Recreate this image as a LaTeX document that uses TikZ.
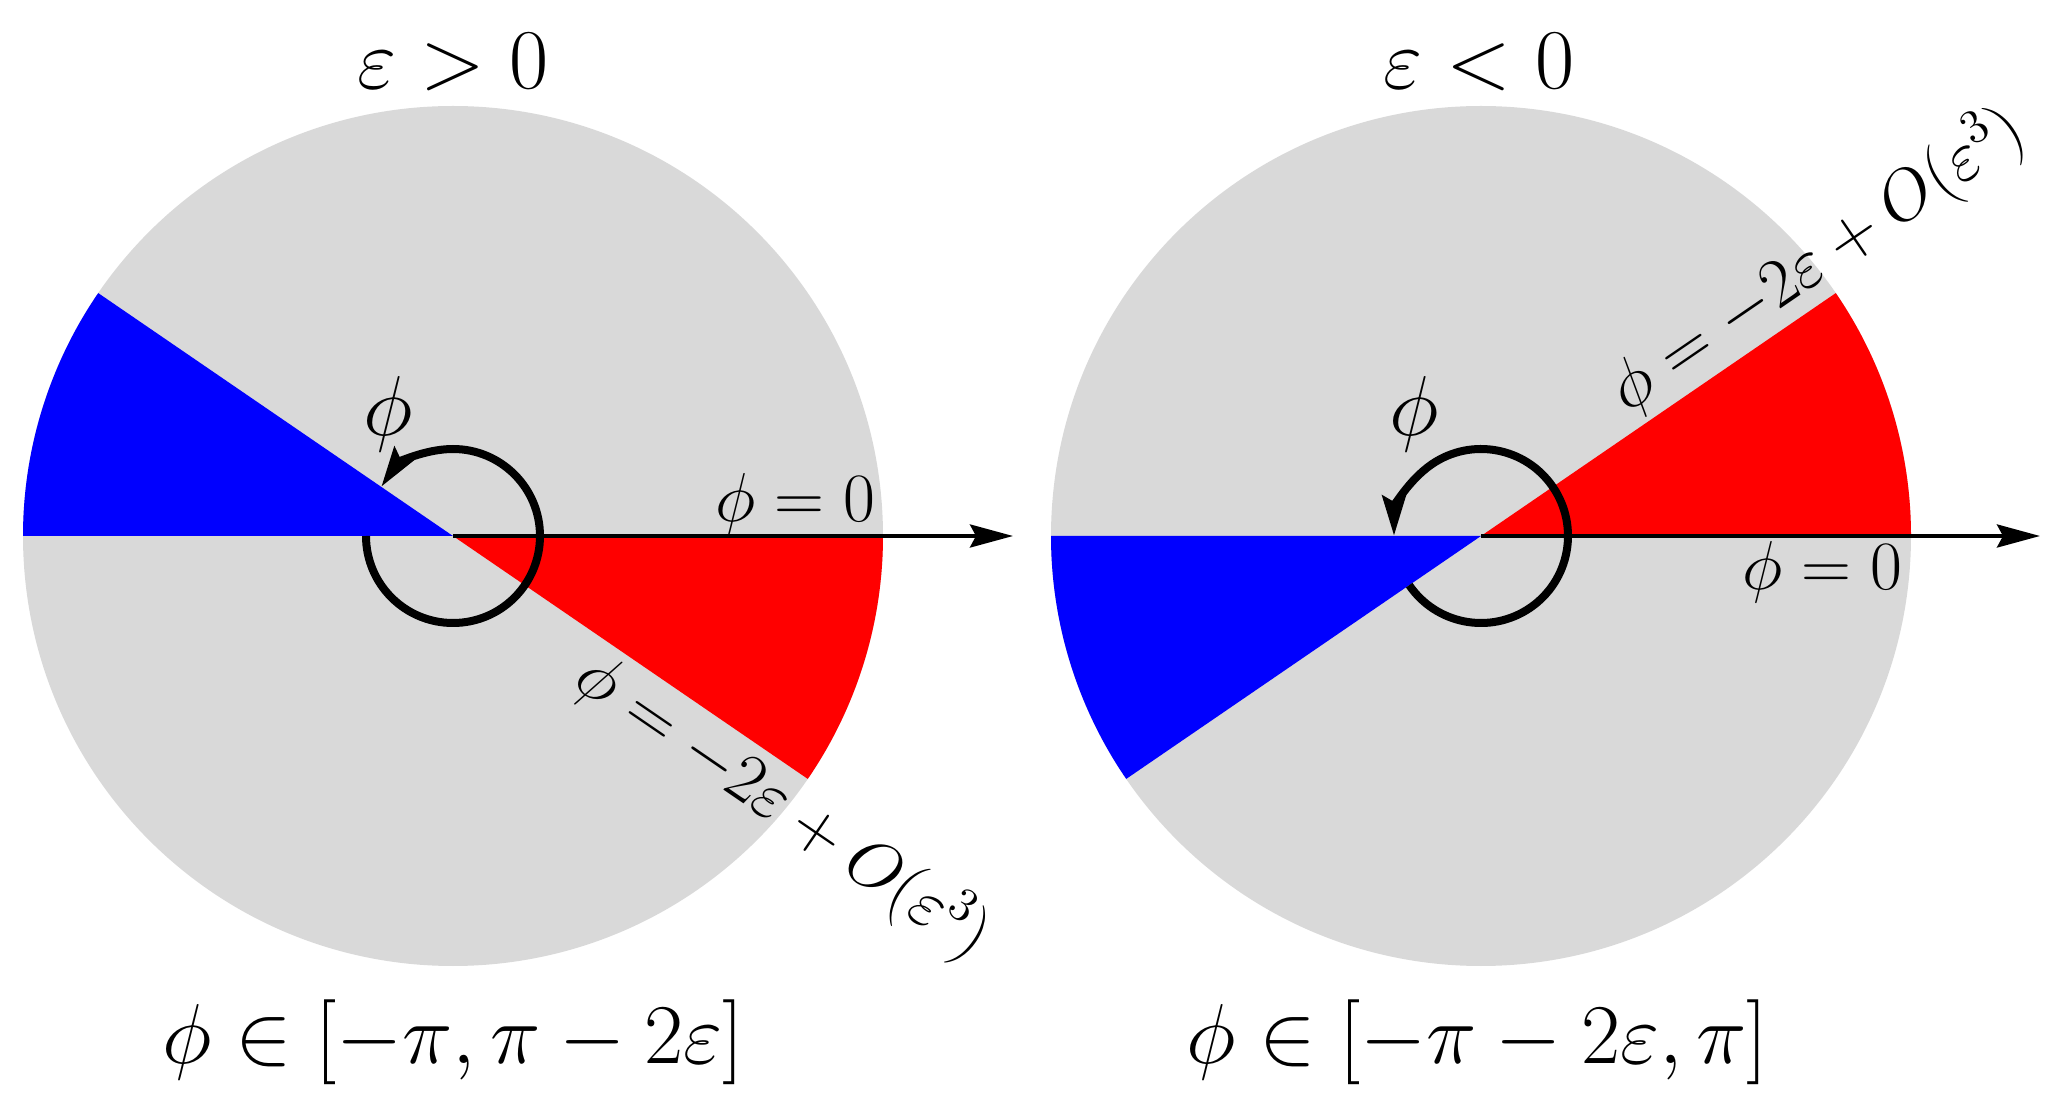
\documentclass[tikz,border=0pt]{standalone}
\usepackage{graphicx}
\usetikzlibrary{arrows.meta,calc}
\definecolor{diskgray}{RGB}{217,217,217}
\newcommand\BigLab[1]{\scalebox{1.167}{$#1$}}
\newcommand\SmLab[1]{\scalebox{0.95}{$#1$}}
\begin{document}
\begin{tikzpicture}[
  lab/.style={font=\fontsize{20.74}{25}\selectfont, inner sep=0pt},
  big/.style={font=\fontsize{20.74}{25}\selectfont, inner sep=0pt},
  axisarrow/.style={line width=0.04cm, -{Stealth[length=0.43cm,width=0.23cm,inset=0.06cm]}},
  turnarrow/.style={line width=0.08cm, -{Stealth[length=0.4cm,width=0.23cm,inset=0.06cm]}},
]
\useasboundingbox (0,0) rectangle (20.69,11.05);
\def\R{4.3}
\def\r{0.87}
\coordinate (L) at (4.53,5.69);
\coordinate (Rc) at (14.81,5.69);
\coordinate (LE) at (10.13,5.69);
\coordinate (RE) at (20.40,5.69);
% left disk
\fill[diskgray] (L) circle (\R);
\fill[blue] (L) -- ++(145.6:\R) arc[start angle=145.6, end angle=180, radius=\R] -- cycle;
\fill[red] (L) -- ++(-34.4:\R) arc[start angle=-34.4, end angle=0, radius=\R] -- cycle;
\draw[axisarrow] (L) -- (LE);
\draw[turnarrow] ($(L)+(180:\r)$) arc[start angle=180, end angle=505.6, radius=\r];
% right disk
\fill[diskgray] (Rc) circle (\R);
\fill[red] (Rc) -- ++(0:\R) arc[start angle=0, end angle=34.4, radius=\R] -- cycle;
\fill[blue] (Rc) -- ++(180:\R) arc[start angle=180, end angle=214.4, radius=\R] -- cycle;
\draw[axisarrow] (Rc) -- (RE);
\draw[turnarrow] ($(Rc)+(214.4:\r)$) arc[start angle=214.4, end angle=540, radius=\r];
% left labels
\node[big, anchor=base] (t1) at (4.53,10.16) {\BigLab{\varepsilon>0}};
\node[big, anchor=base] (b1) at (4.53,0.42) {\BigLab{\phi\in[-\pi,\pi-2\varepsilon]}};
\node[lab, anchor=base east] (z1) at (8.76,5.83) {\SmLab{\phi=0}};
\node[big] (p1) at ($(L)+(-0.65,1.22)$) {\BigLab{\phi}};
\node[lab, rotate=-34.4, anchor=north] (s1) at ($(L)+(-34.4:4.25)$) {\SmLab{\phi=-2\varepsilon+O(\varepsilon^3)}};
% right labels
\node[big, anchor=base] (t2) at (14.79,10.16) {\BigLab{\varepsilon<0}};
\node[big, anchor=base] (b2) at (14.77,0.42) {\BigLab{\phi\in[-\pi-2\varepsilon,\pi]}};
\node[lab, anchor=base east] (z2) at (19.03,5.15) {\SmLab{\phi=0}};
\node[big] (p2) at ($(Rc)+(-0.67,1.22)$) {\BigLab{\phi}};
\node[lab, rotate=34.4, anchor=south] (s2) at ($(Rc)+(34.4:4.33)$) {\SmLab{\phi=-2\varepsilon+O(\varepsilon^3)}};
\end{tikzpicture}
\end{document}
